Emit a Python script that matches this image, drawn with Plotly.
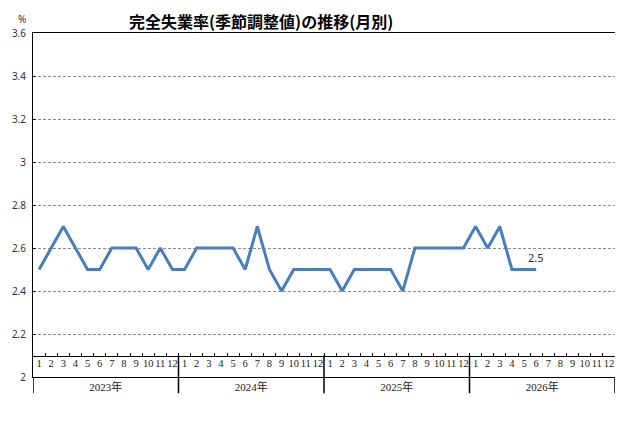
import plotly.graph_objects as go

# Monthly unemployment rate (seasonally adjusted), %
years = ["2023年", "2024年", "2025年", "2026年"]
month_labels = ["1", "2", "3", "4", "5", "6", "7", "8", "9", "10", "11", "12"]
rate_2023 = [2.5, 2.6, 2.7, 2.6, 2.5, 2.5, 2.6, 2.6, 2.6, 2.5, 2.6, 2.5]
rate_2024 = [2.5, 2.6, 2.6, 2.6, 2.6, 2.5, 2.7, 2.5, 2.4, 2.5, 2.5, 2.5]
rate_2025 = [2.5, 2.4, 2.5, 2.5, 2.5, 2.5, 2.4, 2.6, 2.6, 2.6, 2.6, 2.6]
rate_2026 = [2.7, 2.6, 2.7, 2.5, 2.5, 2.5]
y_ticks = [2, 2.2, 2.4, 2.6, 2.8, 3, 3.2, 3.4, 3.6]

values = rate_2023 + rate_2024 + rate_2025 + rate_2026
n_slots = len(years) * len(month_labels)
x_idx = list(range(len(values)))
x_range = [-0.5, n_slots - 0.5]
y_range = [y_ticks[0], y_ticks[-1]]
month_axis_level = 2.1  # the month row sits between 2.0 and 2.1
month_axis_pos = (month_axis_level - y_range[0]) / (y_range[1] - y_range[0])
below = -0.047  # how far the separators hang under the plot (paper units)

line_color = "#4a7ebb"
label_font = "Liberation Serif, Noto Sans CJK JP"

fig = go.Figure()
fig.add_trace(go.Scatter(
    x=x_idx, y=values, mode="lines",
    line=dict(color=line_color, width=3),
    hoverinfo="x+y", showlegend=False,
))
# helper traces so the extra axes get drawn
fig.add_trace(go.Scatter(x=x_idx, y=values, xaxis="x2", mode="lines",
                         line=dict(width=0, color="rgba(0,0,0,0)"),
                         hoverinfo="skip", showlegend=False))
fig.add_trace(go.Scatter(x=x_idx, y=values, xaxis="x3", mode="lines",
                         line=dict(width=0, color="rgba(0,0,0,0)"),
                         hoverinfo="skip", showlegend=False))

year_centers = [i * 12 + 5.5 for i in range(len(years))]
month_centers = list(range(n_slots))
boundaries = [i - 0.5 for i in range(n_slots + 1)]

# page body has an 8px margin, so the figure is a bit smaller than the window
fig.update_layout(
    width=610, height=423,
    margin=dict(l=25, r=3, t=25, b=54),
    paper_bgcolor="white", plot_bgcolor="white",
    title=dict(text="<b>完全失業率(季節調整値)の推移(月別)</b>",
               x=0.415, xanchor="center", y=0.966, yanchor="middle",
               font=dict(family="Noto Sans CJK JP", size=16, color="black")),
    xaxis=dict(range=x_range, tickvals=year_centers, ticktext=years,
               ticks="", showgrid=False, zeroline=False, tickangle=0,
               showline=True, linecolor="black", linewidth=1, mirror=True,
               tickfont=dict(family=label_font, size=11, color="#222"),
               fixedrange=True),
    xaxis2=dict(overlaying="x", anchor="free", position=month_axis_pos,
                range=x_range, tickvals=boundaries, showticklabels=False,
                ticks="inside", ticklen=3, tickcolor="black", tickwidth=1,
                showline=True, linecolor="black", linewidth=1,
                showgrid=False, zeroline=False, fixedrange=True),
    xaxis3=dict(overlaying="x", anchor="free", position=month_axis_pos,
                range=x_range, tickvals=month_centers,
                ticktext=month_labels * len(years), ticks="", tickangle=0,
                showline=False, showgrid=False, zeroline=False,
                tickfont=dict(family=label_font, size=10.5, color="#222"),
                fixedrange=True),
    yaxis=dict(range=y_range, tickvals=y_ticks, ticks="inside", ticklen=3,
               tickcolor="black", showline=True, linecolor="black",
               linewidth=1, mirror=True, showgrid=True, gridcolor="#8c8c8c",
               griddash="3px,2px", gridwidth=1, zeroline=False,
               ticklabelstandoff=4,
               tickfont=dict(family="Noto Sans", size=10, color="#333"),
               fixedrange=True),
    annotations=[
        dict(text="%", xref="paper", yref="paper", x=-0.019, y=1.04,
             xanchor="center", yanchor="middle", showarrow=False,
             font=dict(family="Noto Sans", size=10, color="#333")),
        # label for the latest value
        dict(text=str(values[-1]), x=x_idx[-1], y=values[-1], xref="x",
             yref="y", showarrow=False, yshift=12,
             font=dict(family="Noto Sans", size=11, color="#333")),
    ],
)

# year separators and the border lines that hang below the plot
for i in range(len(years) + 1):
    x_pos = i * 12 - 0.5
    top = month_axis_level if 0 < i < len(years) else y_range[0]
    fig.add_shape(type="line", xref="x", yref="y", x0=x_pos, x1=x_pos,
                  y0=top, y1=y_range[0], line=dict(color="black", width=1.5))
    fig.add_shape(type="line", xref="x", yref="paper", x0=x_pos, x1=x_pos,
                  y0=0, y1=below, line=dict(color="black", width=1.5))

fig.write_html("out.html")
